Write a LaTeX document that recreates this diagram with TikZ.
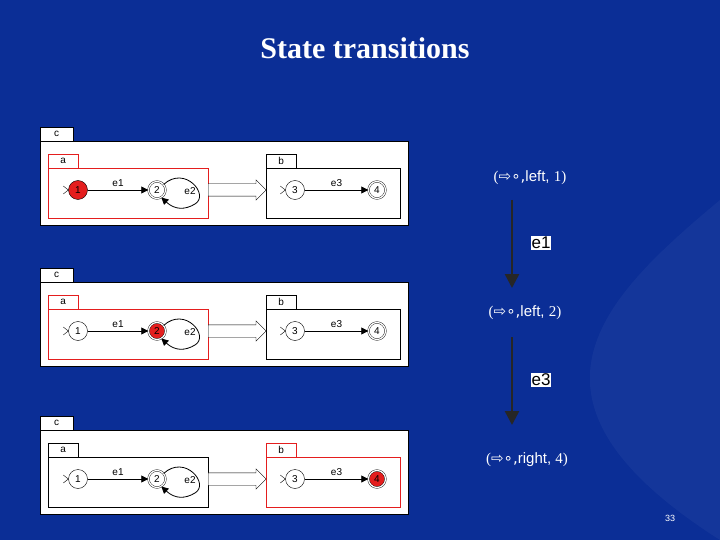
\documentclass[tikz,border=0pt]{standalone}
\usepackage{fontspec}
\setmainfont{Liberation Sans}
\newfontfamily\serifx{Liberation Serif}
\newfontfamily\djv{DejaVu Sans}
\usetikzlibrary{shapes.arrows,arrows.meta}
\definecolor{bg}{HTML}{0B2E96}
\definecolor{rd}{HTML}{E41E1E}
\tikzset{
 st/.style={circle,draw=black,fill=white,minimum size=19pt,inner sep=0pt,font=\fontsize{10}{10}\selectfont},
 fin/.style={st,double,double distance=1.3pt,minimum size=17pt},
 tab/.style={draw,fill=white,anchor=south west,minimum height=14pt,inner sep=1pt,font=\fontsize{10}{10}\selectfont},
 tr/.style={-{Triangle[length=7pt,width=7pt]},thick},
 cfg/.style={text=white,font=\fontsize{15}{15}\selectfont},
 bigarr/.style={-{Triangle[length=14pt,width=14pt]},line width=2.5pt,black!85},
}
\newcommand\machine[5]{%
 \begin{scope}[yshift=-#1pt]
 \tikzset{m1/.style={},m2/.style={},m3/.style={},m4/.style={}}%
 \tikzset{m#2/.style={fill=rd}}%
 \node[tab,minimum width=33pt] (c#5) at (40,141) {c};
 \draw[fill=white] (40,141) rectangle (408,225);
 \node[tab,minimum width=30pt,draw=#3] (ta#5) at (48,168) {a};
 \draw[draw=#3] (48,168) rectangle (208,218);
 \node[tab,minimum width=30pt,draw=#4] (tb#5) at (266,168) {b};
 \draw[draw=#4] (266,168) rectangle (400,218);
 \node[st,m1] (s1#5) at (78,190) {1};
 \node[fin,m2] (s2#5) at (157,190) {2};
 \node[st,m3] (s3#5) at (295,190) {3};
 \node[fin,m4] (s4#5) at (377,190) {4};
 \draw[tr] (s1#5) -- node[above,font=\fontsize{10}{10}\selectfont]{e1} (s2#5);
 \draw[tr] (s3#5) -- node[above,font=\fontsize{10}{10}\selectfont]{e3} (s4#5);
 \draw[tr] (s2#5.40) .. controls (185,165) and (210,195) .. (195,204) .. controls (185,210) and (175,210) .. (s2#5.300);
 \node[font=\fontsize{10}{10}\selectfont] (e2#5) at (190,191) {e2};
 \draw (s1#5.west) -- ++(-5,4) (s1#5.west) -- ++(-5,-4);
 \draw (s3#5.west) -- ++(-5,4) (s3#5.west) -- ++(-5,-4);
 \node[single arrow,draw,fill=white,minimum height=58pt,minimum width=20pt,single arrow head extend=4pt,inner xsep=0pt,inner ysep=6pt,anchor=west] (ar#5) at (208,190) {};
 \end{scope}}
\begin{document}
\begin{tikzpicture}[x=1pt,y=-1pt]
\useasboundingbox (0,0) rectangle (720,540);
\fill[bg] (0,0) rectangle (720,540);
\fill[white,opacity=0.04] (720,200) .. controls (600,300) and (500,400) .. (720,540) -- cycle;
\node[text=white,font=\serifx\bfseries\fontsize{30}{30}\selectfont] (title) at (365,48) {State transitions};
\machine{0}{1}{rd}{black}{A}
\machine{141}{2}{rd}{black}{B}
\machine{289}{4}{black}{rd}{C}
\node[cfg] (k1) at (530,178) {\serifx(\djv⇨∘,\rmfamily left, \serifx 1)};
\node[cfg] (k2) at (525,313) {\serifx(\djv⇨∘,\rmfamily left, \serifx 2)};
\node[cfg] (k3) at (527,460) {\serifx(\djv⇨∘,\rmfamily right, \serifx 4)};
\draw[bigarr] (512,200) -- (512,288);
\draw[bigarr] (512,337) -- (512,425);
\node[fill=white,inner sep=1pt,font=\fontsize{17}{17}\selectfont] (l1) at (541,243) {e1};
\node[fill=white,inner sep=1pt,font=\fontsize{17}{17}\selectfont] (l2) at (541,380) {e3};
\node[text=white,font=\fontsize{9}{9}\selectfont] (pg) at (670,518) {33};
\end{tikzpicture}
\end{document}
